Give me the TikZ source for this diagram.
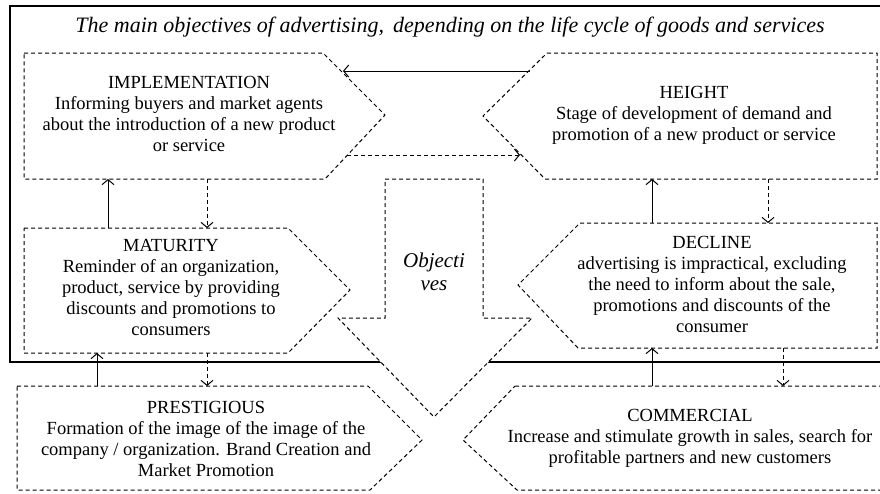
\documentclass[tikz,border=0pt]{standalone}
\usepackage{fontspec}
\setmainfont{Liberation Serif}
\usetikzlibrary{arrows.meta}
\begin{document}
\begin{tikzpicture}[x=1pt,y=-1pt,
  box/.style={draw=black, line width=1pt, dash pattern=on 4pt off 3pt, fill=white},
  txt/.style={align=center, anchor=north, inner sep=0pt, font=\fontsize{18.5}{21}\selectfont},
  solidarr/.style={draw=black, line width=1pt, -{Straight Barb[length=5pt,width=12pt]}},
  dasharr/.style={solidarr, dash pattern=on 4pt off 3pt}]
\useasboundingbox (0,0) rectangle (880,493);
\fill[white] (0,0) rectangle (880,493);
% outer frame
\draw[line width=1.2pt] (10,6) rectangle (900,362);
\node[font=\itshape\fontsize{22}{25}\selectfont, inner sep=0pt] (title) at (450,27)
  {The main objectives of advertising,\, depending on the life cycle of goods and services};
% central objectives arrow
\draw[box] (385,179) -- (483,179) -- (483,318) -- (532,318) -- (434,417) -- (338,318) -- (385,318) -- cycle;
\node[font=\itshape\fontsize{21}{23}\selectfont, align=center, inner sep=0pt] (obj) at (434,272) {Objecti\\ves};
% boxes
\draw[box] (24,53) -- (323,53) -- (385,115) -- (325,179) -- (24,179) -- cycle;
\draw[box] (547,53) -- (877,53) -- (877,179) -- (545,179) -- (483,116) -- cycle;
\draw[box] (24,228) -- (288,228) -- (350,290) -- (288,353) -- (24,353) -- cycle;
\draw[box] (580,223) -- (877,223) -- (877,348) -- (578,348) -- (518,285) -- cycle;
\draw[box] (17,386) -- (368,386) -- (422,440) -- (370,490) -- (17,490) -- cycle;
\draw[box] (515,386) -- (895,386) -- (895,490) -- (517,490) -- (463,440) -- cycle;
% texts
\node[txt] (impl) at (189,76) {IMPLEMENTATION\\Informing buyers and market agents\\about the introduction of a new product\\or service};
\node[txt] (height) at (694,86) {HEIGHT\\Stage of development of demand and\\promotion of a new product or service};
\node[txt] (mat) at (171,239) {MATURITY\\Reminder of an organization,\\product, service by providing\\discounts and promotions to\\consumers};
\node[txt] (decl) at (712,236) {DECLINE\\advertising is impractical, excluding\\the need to inform about the sale,\\promotions and discounts of the\\consumer};
\node[txt] (prest) at (206,401) {PRESTIGIOUS\\Formation of the image of the image of the\\company / organization. Brand Creation and\\Market Promotion};
\node[txt] (comm) at (690,409) {COMMERCIAL\\Increase and stimulate growth in sales, search for\\profitable partners and new customers};
% connector end points
\coordinate (hI) at (530,71);  \coordinate (iH) at (343,71);
\coordinate (iH2) at (347,155); \coordinate (hI2) at (520,155);
\coordinate (mI) at (108,228); \coordinate (iM) at (108,179);
\coordinate (iM2) at (207,179); \coordinate (mI2) at (207,228);
\coordinate (dH) at (652,223); \coordinate (hD) at (652,179);
\coordinate (hD2) at (768,179); \coordinate (dH2) at (768,223);
\coordinate (pM) at (97,386); \coordinate (mP) at (97,353);
\coordinate (mP2) at (207,353); \coordinate (pM2) at (207,386);
\coordinate (cD) at (652,386); \coordinate (dC) at (652,348);
\coordinate (dC2) at (783,348); \coordinate (cD2) at (783,386);
% connectors
\draw[solidarr] (hI) -- (iH);
\draw[dasharr] (iH2) -- (hI2);
\draw[solidarr] (mI) -- (iM);
\draw[dasharr] (iM2) -- (mI2);
\draw[solidarr] (dH) -- (hD);
\draw[dasharr] (hD2) -- (dH2);
\draw[solidarr] (pM) -- (mP);
\draw[dasharr] (mP2) -- (pM2);
\draw[solidarr] (cD) -- (dC);
\draw[dasharr] (dC2) -- (cD2);
\end{tikzpicture}
\end{document}
